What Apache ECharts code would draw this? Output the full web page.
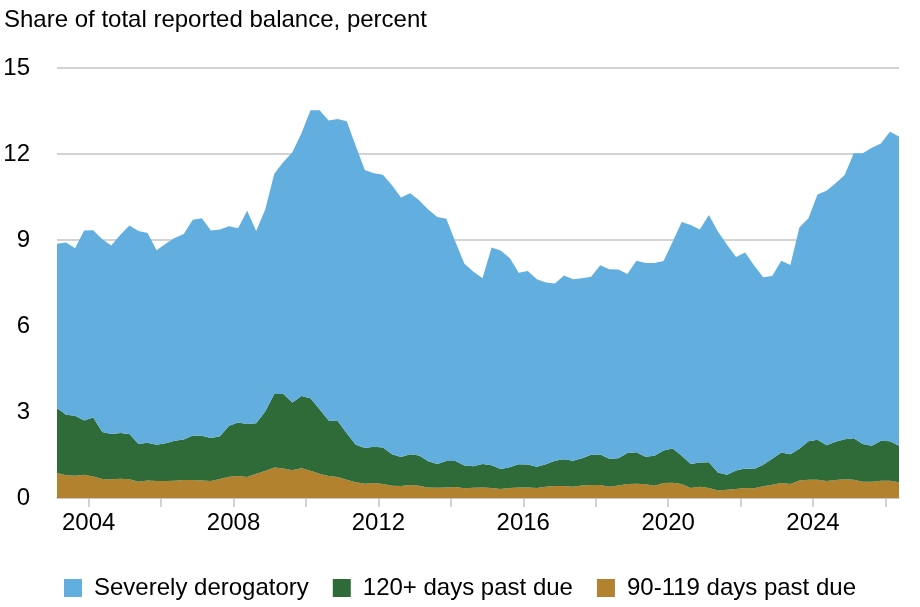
<!DOCTYPE html>
<html>
<head>
<meta charset="utf-8">
<script src="https://cdn.jsdelivr.net/npm/echarts@6/dist/echarts.min.js"></script>
<style>
  html, body { margin: 0; padding: 0; background: #fff; }
  #chart { width: 920px; height: 607px; }
</style>
</head>
<body>
<div id="chart"></div>
<script>
// quarterly, 2003Q1 .. 2026Q2
const firstYear = 2003;
const quarterCount = 94;
const quarters = [];
for (let i = 0; i < quarterCount; i++) {
    quarters.push({ year: firstYear + Math.floor(i / 4), q: (i % 4) + 1 });
}

const severelyDerogatory = [
    5.74, 6.01, 5.84, 6.63, 6.53, 6.73, 6.58, 6.91, 7.28, 7.43,
    7.31, 6.78, 6.96, 7.07, 7.17, 7.53, 7.59, 7.24, 7.22, 6.96,
    6.78, 7.44, 6.70, 7.04, 7.68, 8.09, 8.73, 9.16, 10.05, 10.43,
    10.47, 10.53, 10.88, 10.42, 9.70, 9.54, 9.52, 9.38, 9.05, 9.10,
    8.91, 8.78, 8.61, 8.45, 7.65, 7.04, 6.78, 6.48, 7.60, 7.62,
    7.30, 6.68, 6.75, 6.54, 6.34, 6.18, 6.41, 6.33, 6.28, 6.21,
    6.60, 6.61, 6.58, 6.24, 6.68, 6.76, 6.73, 6.61, 7.21, 8.16,
    8.33, 8.13, 8.62, 8.41, 8.02, 7.45, 7.53, 7.10, 6.54, 6.37,
    6.69, 6.60, 7.72, 7.78, 8.56, 8.88, 9.02, 9.22, 9.95, 10.15,
    10.40, 10.37, 10.80, 10.79
];
const pastDue120 = [
    2.26, 2.11, 2.09, 1.89, 2.06, 1.64, 1.58, 1.60, 1.58, 1.31,
    1.32, 1.27, 1.32, 1.40, 1.41, 1.55, 1.56, 1.50, 1.49, 1.78,
    1.86, 1.85, 1.76, 2.08, 2.57, 2.60, 2.36, 2.52, 2.53, 2.25,
    1.93, 1.96, 1.62, 1.31, 1.24, 1.27, 1.27, 1.10, 1.01, 1.08,
    1.05, 0.91, 0.83, 0.92, 0.91, 0.79, 0.75, 0.82, 0.79, 0.70,
    0.72, 0.81, 0.80, 0.74, 0.79, 0.88, 0.93, 0.91, 0.95, 1.06,
    1.07, 0.98, 0.95, 1.08, 1.10, 0.96, 1.04, 1.14, 1.20, 0.98,
    0.84, 0.85, 0.90, 0.63, 0.52, 0.65, 0.68, 0.67, 0.75, 0.91,
    1.07, 1.04, 1.11, 1.34, 1.39, 1.25, 1.33, 1.40, 1.44, 1.31,
    1.25, 1.40, 1.38, 1.27
];
const pastDue90 = [
    0.87, 0.79, 0.78, 0.81, 0.75, 0.66, 0.65, 0.67, 0.65, 0.57,
    0.61, 0.59, 0.59, 0.60, 0.63, 0.63, 0.61, 0.59, 0.66, 0.74,
    0.77, 0.73, 0.85, 0.94, 1.06, 1.03, 0.97, 1.04, 0.95, 0.85,
    0.77, 0.73, 0.64, 0.55, 0.50, 0.52, 0.49, 0.43, 0.42, 0.45,
    0.43, 0.37, 0.36, 0.37, 0.38, 0.34, 0.36, 0.37, 0.35, 0.31,
    0.35, 0.37, 0.37, 0.35, 0.39, 0.42, 0.42, 0.39, 0.44, 0.45,
    0.45, 0.39, 0.44, 0.49, 0.50, 0.48, 0.43, 0.52, 0.53, 0.49,
    0.35, 0.39, 0.35, 0.26, 0.29, 0.31, 0.35, 0.34, 0.41, 0.46,
    0.52, 0.49, 0.61, 0.64, 0.64, 0.59, 0.63, 0.65, 0.64, 0.57,
    0.57, 0.60, 0.60, 0.55
];

const yTicks = [0, 3, 6, 9, 12, 15];
const xTickYears = [2004, 2006, 2008, 2010, 2012, 2014, 2016, 2018, 2020, 2022, 2024, 2026];
const xLabelYears = [2004, 2008, 2012, 2016, 2020, 2024];

const FONT = "'Liberation Sans', Arial, sans-serif";

// each quarter is plotted at its midpoint on the year axis
const xOf = (qt) => qt.year + (qt.q - 0.5) / 4;
// value first so the stack runs on y, not on the (numeric) x dimension
const toRows = (vals) => vals.map((v, i) => [v, xOf(quarters[i])]);

const chart = echarts.init(document.getElementById('chart'), null, { renderer: 'canvas' });

function areaSeries(name, color, values) {
    return {
        name,
        type: 'line',
        stack: 'total',
        data: toRows(values),
        encode: { x: 1, y: 0 },
        symbol: 'none',
        lineStyle: { width: 0, color },
        itemStyle: { color },
        areaStyle: { color, opacity: 1 },
    };
}

chart.setOption({
    animation: false,
    backgroundColor: '#fff',
    title: {
        text: 'Share of total reported balance, percent',
        left: 4,
        top: 8,
        padding: 0,
        textStyle: { fontFamily: FONT, fontSize: 24, fontWeight: 'normal', color: '#000' },
    },
    legend: {
        data: ['Severely derogatory', '120+ days past due', '90-119 days past due'],
        left: 'center',
        top: 571,
        icon: 'rect',
        itemWidth: 18,
        itemHeight: 18,
        itemGap: 24,
        textStyle: { fontFamily: FONT, fontSize: 24, color: '#000', padding: [0, 0, 0, 7] },
    },
    grid: { left: 57, right: 21, top: 68, bottom: 109 },
    xAxis: {
        type: 'value',
        min: xOf(quarters[0]),
        max: xOf(quarters[quarterCount - 1]),
        splitLine: { show: false },
        axisLine: { show: true, lineStyle: { color: '#c4c4c4', width: 1.5 } },
        axisTick: {
            show: true,
            customValues: xTickYears,
            length: 9,
            lineStyle: { color: '#c4c4c4', width: 1.5 },
        },
        axisLabel: {
            customValues: xLabelYears,
            formatter: (v) => String(v),
            fontFamily: FONT,
            fontSize: 24,
            color: '#000',
            margin: 13,
        },
    },
    yAxis: {
        type: 'value',
        min: yTicks[0],
        max: yTicks[yTicks.length - 1],
        interval: 3,
        axisLine: { show: false },
        axisTick: { show: false },
        axisLabel: { fontFamily: FONT, fontSize: 24, color: '#000', margin: 27 },
        splitLine: { lineStyle: { color: '#c4c4c4', width: 1.5 } },
    },
    series: [
        areaSeries('90-119 days past due', '#b3822f', pastDue90),
        areaSeries('120+ days past due', '#2f6b38', pastDue120),
        areaSeries('Severely derogatory', '#61aedf', severelyDerogatory),
    ],
});
</script>
</body>
</html>
